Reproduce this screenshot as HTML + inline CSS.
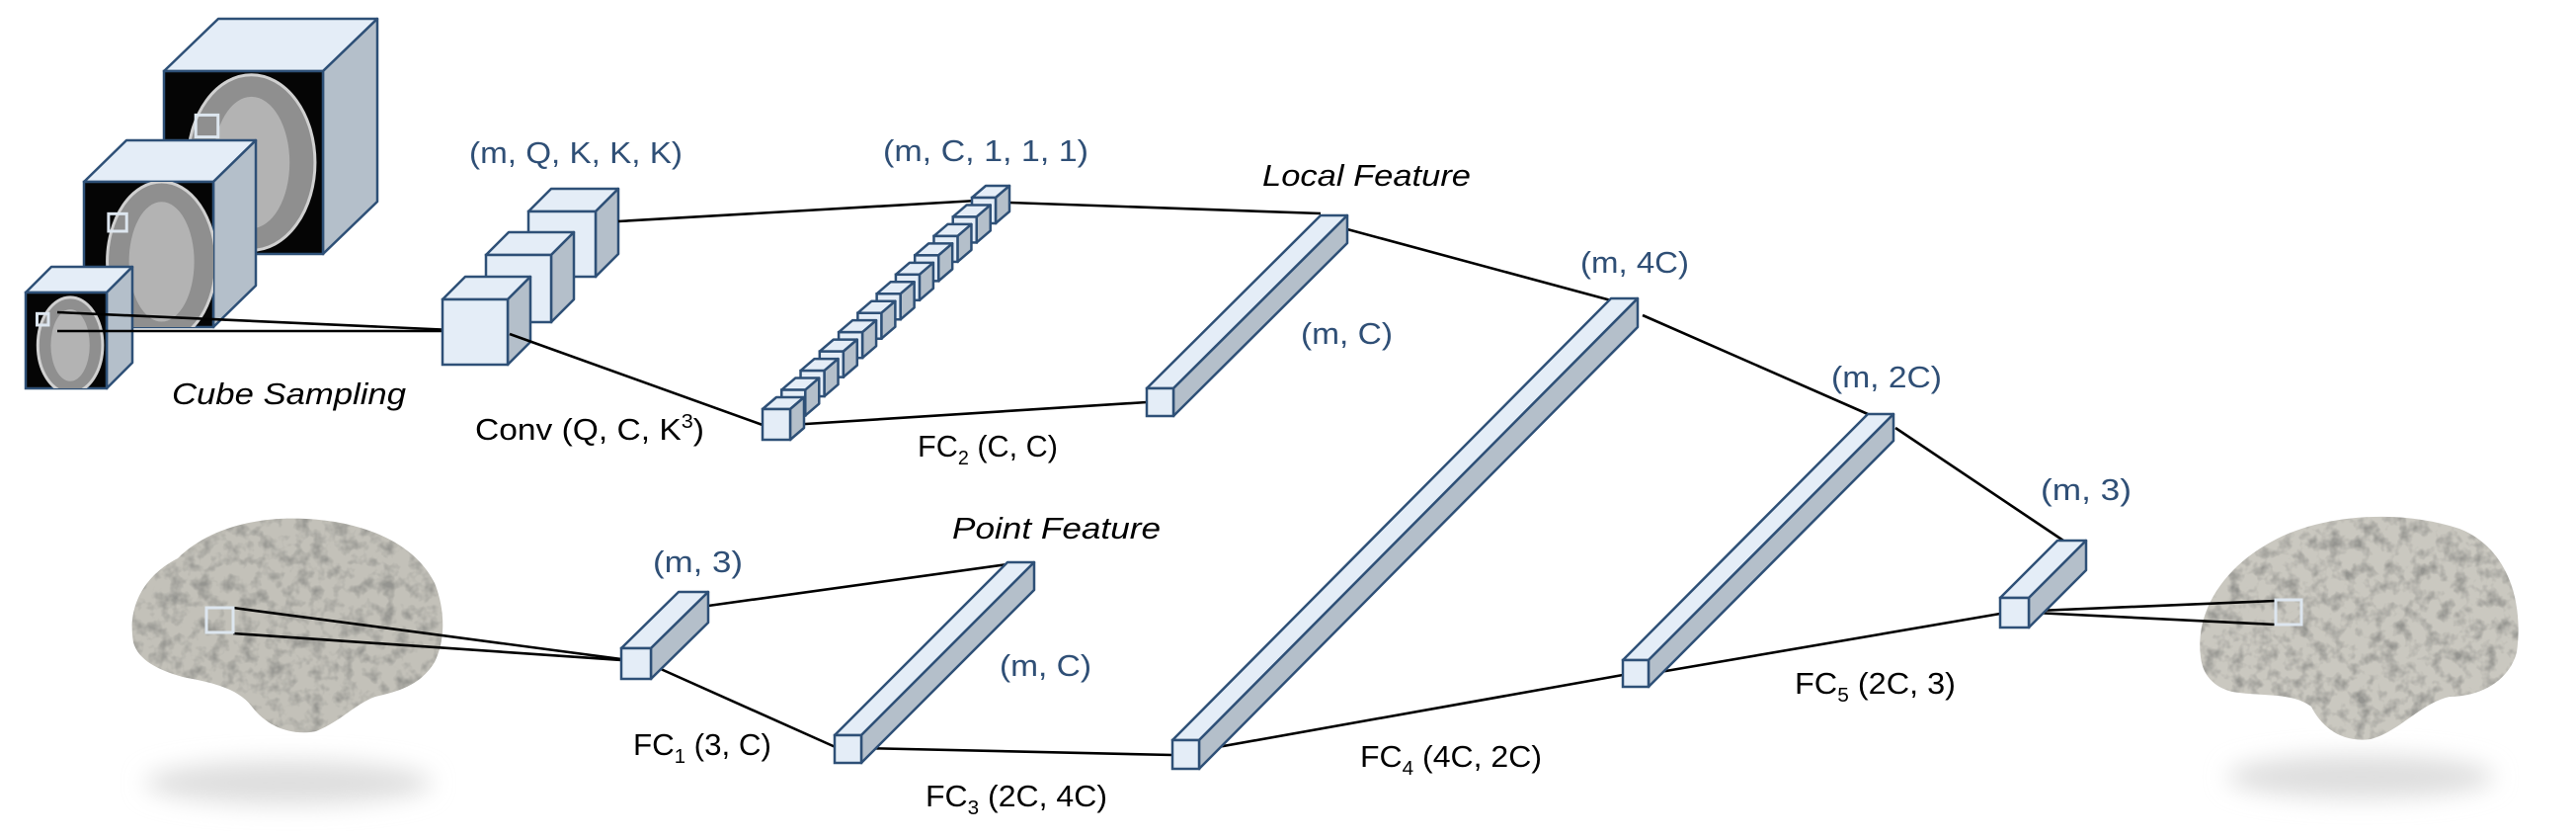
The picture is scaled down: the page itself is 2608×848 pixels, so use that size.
<!DOCTYPE html>
<html><head><meta charset="utf-8"><title>Network diagram</title>
<style>
html,body{margin:0;padding:0;background:#fff;}
svg{display:block;}
.lbl{font-family:"Liberation Sans",sans-serif;font-size:31px;fill:#2f4f76;}
.blk{font-family:"Liberation Sans",sans-serif;font-size:31px;fill:#000;}
.it{font-style:italic;}
.ln{stroke:#000;stroke-width:2.6;fill:none;}
</style></head>
<body>
<svg id="fig" width="2608" height="848" viewBox="0 0 2608 848" xmlns="http://www.w3.org/2000/svg">
<defs>
<filter id="sh" x="-30%" y="-60%" width="160%" height="220%"><feGaussianBlur stdDeviation="12"/></filter>
<filter id="tex"><feTurbulence type="fractalNoise" baseFrequency="0.07" numOctaves="3" seed="4"/><feColorMatrix type="matrix" values="0 0 0 0 0.3 0 0 0 0 0.3 0 0 0 0 0.28 0 0 0 -2.6 1.45"/><feComposite in2="SourceGraphic" operator="in"/></filter>
</defs>

<ellipse cx="292" cy="792" rx="145" ry="22" fill="#dedede" filter="url(#sh)"/>
<ellipse cx="2390" cy="786" rx="135" ry="22" fill="#dedede" filter="url(#sh)"/>

<g>
<path id="lb" d="M135,650 C128,610 150,580 180,565 C210,535 260,522 310,525 C370,528 420,550 440,590 C452,620 450,650 440,670 C425,695 400,700 380,705 C360,712 345,730 320,740 C295,745 270,735 255,715 C240,695 210,690 185,685 C160,678 140,668 135,650 Z" fill="#c3c1b9"/>
<path d="M135,650 C128,610 150,580 180,565 C210,535 260,522 310,525 C370,528 420,550 440,590 C452,620 450,650 440,670 C425,695 400,700 380,705 C360,712 345,730 320,740 C295,745 270,735 255,715 C240,695 210,690 185,685 C160,678 140,668 135,650 Z" fill="#555" filter="url(#tex)"/>
</g>
<g>
<path d="M2228,665 C2222,620 2250,575 2300,548 C2350,520 2430,515 2490,535 C2540,555 2555,610 2548,660 C2540,690 2510,705 2480,705 C2450,712 2430,740 2400,748 C2370,752 2350,735 2340,715 C2320,700 2290,705 2260,700 C2240,695 2230,682 2228,665 Z" fill="#cac8c0"/>
<path d="M2228,665 C2222,620 2250,575 2300,548 C2350,520 2430,515 2490,535 C2540,555 2555,610 2548,660 C2540,690 2510,705 2480,705 C2450,712 2430,740 2400,748 C2370,752 2350,735 2340,715 C2320,700 2290,705 2260,700 C2240,695 2230,682 2228,665 Z" fill="#555" filter="url(#tex)"/>
</g>

<g id="boxes"></g>

<rect x="209" y="615" width="27" height="25" fill="none" stroke="#dde6ef" stroke-width="3"/>
<rect x="2304" y="607" width="26" height="25" fill="none" stroke="#dde6ef" stroke-width="3"/>

<text class="lbl" x="475" y="165" textLength="216" lengthAdjust="spacingAndGlyphs">(m, Q, K, K, K)</text>
<text class="lbl" x="894" y="163" textLength="208" lengthAdjust="spacingAndGlyphs">(m, C, 1, 1, 1)</text>
<text class="blk it" x="1278" y="188" textLength="211" lengthAdjust="spacingAndGlyphs">Local Feature</text>
<text class="lbl" x="1317" y="348" textLength="93" lengthAdjust="spacingAndGlyphs">(m, C)</text>
<text class="lbl" x="1600" y="276" textLength="110" lengthAdjust="spacingAndGlyphs">(m, 4C)</text>
<text class="lbl" x="1854" y="392" textLength="112" lengthAdjust="spacingAndGlyphs">(m, 2C)</text>
<text class="lbl" x="2066" y="506" textLength="92" lengthAdjust="spacingAndGlyphs">(m, 3)</text>
<text class="lbl" x="661" y="579" textLength="91" lengthAdjust="spacingAndGlyphs">(m, 3)</text>
<text class="lbl" x="1012" y="684" textLength="93" lengthAdjust="spacingAndGlyphs">(m, C)</text>
<text class="blk it" x="964" y="545" textLength="211" lengthAdjust="spacingAndGlyphs">Point Feature</text>
<text class="blk it" x="174" y="409" textLength="237" lengthAdjust="spacingAndGlyphs">Cube Sampling</text>
<text class="blk" x="481" y="445" textLength="232" lengthAdjust="spacingAndGlyphs">Conv (Q, C, K<tspan dy="-12" font-size="20">3</tspan><tspan dy="12">)</tspan></text>
<text class="blk" x="929" y="462" textLength="142" lengthAdjust="spacingAndGlyphs">FC<tspan dy="8" font-size="20">2</tspan><tspan dy="-8"> (C, C)</tspan></text>
<text class="blk" x="641" y="764" textLength="140" lengthAdjust="spacingAndGlyphs">FC<tspan dy="8" font-size="20">1</tspan><tspan dy="-8"> (3, C)</tspan></text>
<text class="blk" x="937" y="816" textLength="184" lengthAdjust="spacingAndGlyphs">FC<tspan dy="8" font-size="20">3</tspan><tspan dy="-8"> (2C, 4C)</tspan></text>
<text class="blk" x="1377" y="776" textLength="184" lengthAdjust="spacingAndGlyphs">FC<tspan dy="8" font-size="20">4</tspan><tspan dy="-8"> (4C, 2C)</tspan></text>
<text class="blk" x="1817" y="702" textLength="163" lengthAdjust="spacingAndGlyphs">FC<tspan dy="8" font-size="20">5</tspan><tspan dy="-8"> (2C, 3)</tspan></text>
</svg>
<script>
const NS='http://www.w3.org/2000/svg';
const boxes=document.getElementById('boxes');
const STROKE='#2e5077', TOP='#e4edf7', FRONT='#e4edf7', SIDE='#b4bfca';
function el(tag,attrs,parent){const e=document.createElementNS(NS,tag);for(const k in attrs)e.setAttribute(k,attrs[k]);parent.appendChild(e);return e;}
function line(x1,y1,x2,y2,name){
  const l=el('line',{x1:x1,y1:y1,x2:x2,y2:y2,class:'ln'},boxes);
  
  
}
function box(x,y,w,h,dx,dy,name,mri){
  const g=el('g',{},boxes);
  
  
  el('polygon',{points:`${x},${y} ${x+w},${y} ${x+w+dx},${y+dy} ${x+dx},${y+dy}`,fill:TOP,stroke:STROKE,'stroke-width':2.5,'stroke-linejoin':'round'},g);
  el('polygon',{points:`${x+w},${y} ${x+w+dx},${y+dy} ${x+w+dx},${y+h+dy} ${x+w},${y+h}`,fill:SIDE,stroke:STROKE,'stroke-width':2.5,'stroke-linejoin':'round'},g);
  if(mri){
    el('rect',{x:x,y:y,width:w,height:h,fill:'#050505',stroke:STROKE,'stroke-width':2.5},g);
    const cid='c'+Math.round(x)+'_'+Math.round(y);
    const cp=el('clipPath',{id:cid},g);el('rect',{x:x,y:y,width:w,height:h},cp);
    const gg=el('g',{'clip-path':`url(#${cid})`},g);
    el('ellipse',{cx:x+w*mri.cx,cy:y+h*mri.cy,rx:w*mri.rx,ry:h*mri.ry,fill:'#8f8f8f',stroke:'#d0d0d0','stroke-width':3},gg);
    el('ellipse',{cx:x+w*mri.cx,cy:y+h*mri.cy,rx:w*mri.rx*0.6,ry:h*mri.ry*0.75,fill:'#b3b3b3'},gg);
    el('rect',{x:x+w*mri.sx,y:y+h*mri.sy,width:w*0.14,height:h*0.12,fill:'none',stroke:'#dde6ef','stroke-width':3},g);
  } else {
    el('rect',{x:x,y:y,width:w,height:h,fill:FRONT,stroke:STROKE,'stroke-width':2.5},g);
  }
}
box(166,72,161,185,55,-53,'mri-cube-large',{cx:0.55,cy:0.5,rx:0.4,ry:0.48,sx:0.2,sy:0.24});
box(85,184,131,147,43,-42,'mri-cube-medium',{cx:0.6,cy:0.55,rx:0.42,ry:0.55,sx:0.19,sy:0.22});
box(26,296,82,97,26,-26,'mri-cube-small',{cx:0.55,cy:0.55,rx:0.4,ry:0.5,sx:0.14,sy:0.22});
line(58,316,481,335,'sampling-line-top');
line(58,335,481,335,'sampling-line-bottom');
box(535,214,68,66,23,-23,'conv-cube-3');
box(492,258,66,68,23,-23,'conv-cube-2');
box(448,303,66,66,23,-23,'conv-cube-1');
line(626,224,989,203,'conv-to-chain-top');
line(516,338,772,430,'conv-to-chain-bottom');
line(1022,205,1337,216,'chain-to-local-top');
line(800,430,1161,407,'fc2-line');
line(1364,232,1631,304,'local-to-4c-line');
line(1188,764,1643,683,'fc4-line');
line(1663,319,1891,419,'4c-to-2c-line');
line(1919,433,2089,547,'2c-to-out-line');
line(1669,682,2025,621,'fc5-line');
line(2039,619,2304,608,'output-brain-line-top');
line(2039,619,2304,632,'output-brain-line-bottom');
line(236,615,644,669,'input-brain-line-top');
line(236,641,644,669,'input-brain-line-bottom');
line(717,613,1020,571,'fc1-to-point-top');
line(660,673,848,757,'fc1-to-point-bottom');
line(872,757,1187,764,'fc3-line');
for(let i=11;i>=0;i--){
  const x=772+i*(212/11), y=414-i*(214/11);
  const s=i===0?28:24;
  box(x,y,s,s+(i===0?3:2),14,-12,'conv-output-cube-'+(i+1));
}
box(1161,393,27,28,176,-175,'local-feature-bar');
box(1187,749,27,29,444,-447,'fc4-input-bar');
box(1643,668,26,27,248,-249,'fc5-input-bar');
box(2025,605,29,30,58,-58,'output-box');
box(845,744,27,28,175,-175,'point-feature-bar');
box(629,656,30,31,58,-57,'point-input-box');
</script>
</body></html>
